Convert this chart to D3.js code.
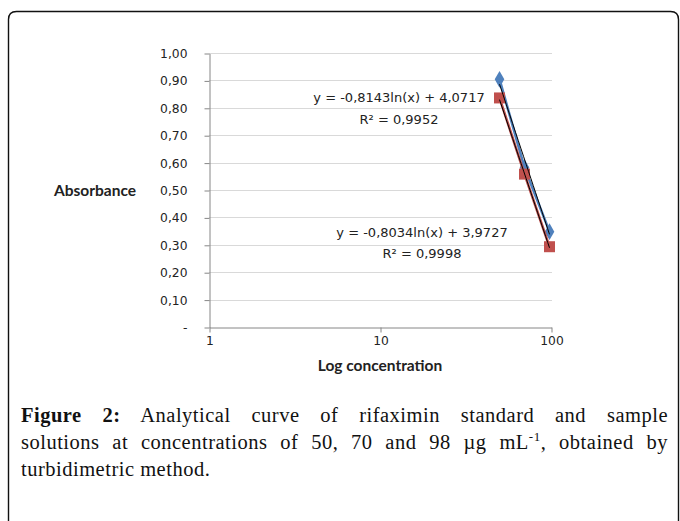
<!DOCTYPE html>
<html>
<head>
<meta charset="utf-8">
<script src="https://cdn.jsdelivr.net/npm/d3@7"></script>
<style>
  html, body { margin: 0; padding: 0; background: #fff; }
  #wrap { position: relative; width: 680px; height: 521px; overflow: hidden; }
  svg { position: absolute; left: 0; top: 0; }
  .caption {
    position: absolute; left: 21px; top: 402px; width: 647px;
    font-family: "Liberation Serif", "DejaVu Serif", serif; font-size: 20.5px;
    letter-spacing: 0.5px; line-height: 27px; color: #111;
  }
  .caption div { white-space: nowrap; }
  .caption .just { text-align: justify; text-align-last: justify; white-space: normal; }
  .caption sup { font-size: 13px; line-height: 0; }
  .axis path, .axis line { stroke: #868686; }
  .axis text { font-family: "DejaVu Sans", sans-serif; font-size: 12.3px; fill: #222; }
</style>
</head>
<body>
<div id="wrap">
  <svg id="chart" width="680" height="521"></svg>
  <div class="caption">
    <div class="just"><b>Figure 2:</b> Analytical curve of rifaximin standard and sample</div>
    <div class="just">solutions at concentrations of 50, 70 and 98 &micro;g mL<sup>-1</sup>, obtained by</div>
    <div>turbidimetric method.</div>
  </div>
</div>
<script>
// data
const concentrations = [50, 70, 98]
const standardAbs = [0.904, 0.582, 0.348]
const sampleAbs = [0.836, 0.558, 0.293]
// trendlines y = a ln(x) + b
const standardFit = {a: -0.8143, b: 4.0717, label: 'y = -0,8143ln(x) + 4,0717', r2: 'R² = 0,9952'}
const sampleFit = {a: -0.8034, b: 3.9727, label: 'y = -0,8034ln(x) + 3,9727', r2: 'R² = 0,9998'}
const yTicks = d3.range(0, 1.0001, 0.1)
const xTicks = [1, 10, 100]

const svg = d3.select('#chart')

// rounded frame round the figure
svg.append('path')
  .attr('d', 'M8.5,530 V19.5 Q8.5,11.5 16.5,11.5 H670.5 Q678.5,11.5 678.5,19.5 V530')
  .attr('fill', 'none').attr('stroke', '#111').attr('stroke-width', 1.4)

const x = d3.scaleLog().domain([1, 100]).range([209, 551])
const y = d3.scaleLinear().domain([0, 1]).range([327, 53])

// gridlines
svg.append('g').selectAll('line').data(yTicks.slice(1)).join('line')
  .attr('x1', x(1)).attr('x2', x(100) + 1)
  .attr('y1', d => Math.round(y(d)) + 0.5).attr('y2', d => Math.round(y(d)) + 0.5)
  .attr('stroke', '#d9d9d9')

const fmt = d => d < 0.001 ? '-' : d3.format('.2f')(d).replace('.', ',')

svg.append('g').attr('class', 'axis')
  .attr('transform', `translate(${x(1) + 0.5},0.5)`)
  .call(d3.axisLeft(y).tickValues(yTicks).tickFormat(fmt).tickSize(5).tickSizeOuter(0).tickPadding(17))

svg.append('g').attr('class', 'axis')
  .attr('transform', `translate(0.5,${y(0) + 0.5})`)
  .call(d3.axisBottom(x).tickValues(xTicks).tickFormat(d3.format('d')).tickSize(5).tickSizeOuter(0).tickPadding(4))

svg.selectAll('.axis .domain').attr('stroke', '#868686')

// axis titles
svg.append('text').attr('x', 54).attr('y', 196)
  .style('font-family', 'Lato, sans-serif').style('font-weight', 'bold').style('font-size', '15.5px')
  .attr('fill', '#222').text('Absorbance')
svg.append('text').attr('x', 380).attr('y', 371).attr('text-anchor', 'middle')
  .style('font-family', 'Lato, sans-serif').style('font-weight', 'bold').style('font-size', '15.5px')
  .attr('fill', '#222').text('Log concentration')

const series = [
  {values: standardAbs, color: '#4F81BD', marker: 'diamond'},
  {values: sampleAbs, color: '#C0504D', marker: 'square'}
]
const line = d3.line().x(d => x(d[0])).y(d => y(d[1]))

series.forEach(s => {
  const pts = concentrations.map((c, i) => [c, s.values[i]])
  svg.append('path').attr('d', line(pts))
    .attr('fill', 'none').attr('stroke', s.color).attr('stroke-width', 2.6)
  const sym = s.marker === 'diamond'
    ? d3.symbol().type(d3.symbolDiamond).size(80)
    : d3.symbol().type(d3.symbolSquare).size(121)
  svg.append('g').selectAll('path').data(pts).join('path')
    .attr('transform', d => `translate(${x(d[0])},${y(d[1])})`)
    .attr('d', sym)
    .attr('fill', s.color)
})

// trendlines
;[standardFit, sampleFit].forEach(f => {
  const pts = d3.range(0, 21).map(i => {
    const c = concentrations[0] + (concentrations[2] - concentrations[0]) * i / 20
    return [c, f.a * Math.log(c) + f.b]
  })
  svg.append('path').attr('d', line(pts))
    .attr('fill', 'none').attr('stroke', '#000').attr('stroke-width', 1)
})

// equation labels
const labels = [
  {fit: standardFit, cx: 399, y1: 102, y2: 124},
  {fit: sampleFit, cx: 422, y1: 237, y2: 258}
]
labels.forEach(l => {
  const g = svg.append('g').style('font-family', '"DejaVu Sans", sans-serif').style('font-size', '13px').attr('fill', '#222')
  g.append('text').attr('x', l.cx).attr('y', l.y1).attr('text-anchor', 'middle').text(l.fit.label)
  g.append('text').attr('x', l.cx).attr('y', l.y2).attr('text-anchor', 'middle').text(l.fit.r2)
})
</script>
</body>
</html>
